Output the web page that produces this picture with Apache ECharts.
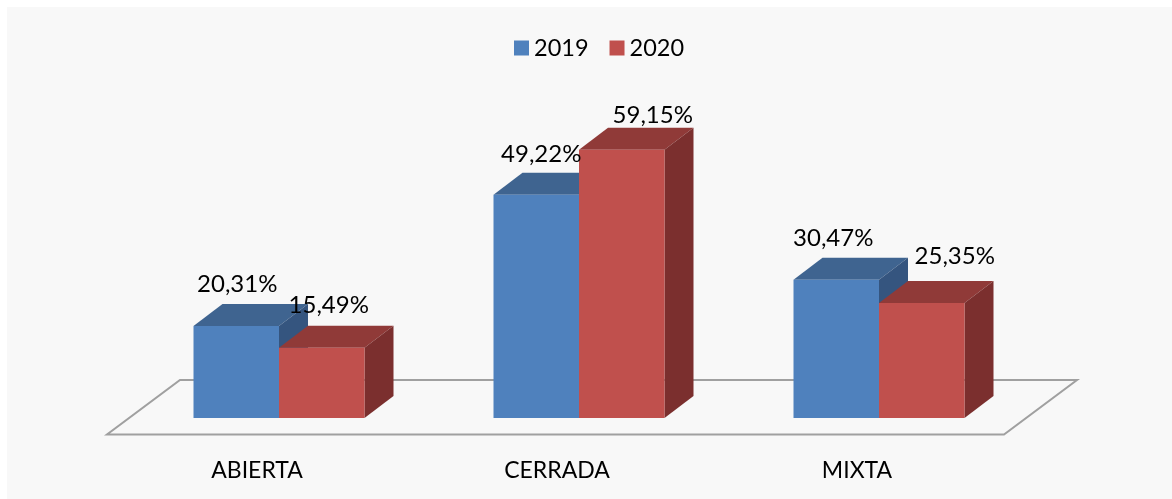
<!DOCTYPE html>
<html><head><meta charset="utf-8">
<style>html,body{margin:0;padding:0;background:#fff}#c{width:1172px;height:499px}</style>
<script src="https://cdn.jsdelivr.net/npm/echarts@6/dist/echarts.min.js"></script>
</head><body><div id="c"></div>
<script>
const categories = ['ABIERTA', 'CERRADA', 'MIXTA'];
const values2019 = [20.31, 49.22, 30.47];
const values2020 = [15.49, 59.15, 25.35];
const seriesNames = ['2019', '2020'];

// style / layout constants
const FONT = 'Lato';
const DEPTH_X = 29, DEPTH_Y = 22;
const BAR_RATIO = 85.5 / 300;
const faces = {
  '2019': { front: '#4F81BD', top: '#3F6490', side: '#35557F' },
  '2020': { front: '#C0504D', top: '#903A38', side: '#7B2F2E' }
};
// hand-placed label offsets from the top-centre of each front face: [dx, dy]
const labelNudges = {
  '2019': [[1, -42], [5, -40], [-3, -42]],
  '2020': [[7, -42], [31, -34], [33, -47]]
};
const fmt = v => v.toFixed(2).replace('.', ',') + '%';

function barRender(name, sign) {
  return function (params, api) {
    const i = api.value(0), v = api.value(1);
    const top = api.coord([i, v]), base = api.coord([i, 0]);
    const w = api.size([1, 0])[0] * BAR_RATIO;
    const x0 = top[0] + (sign < 0 ? -w : 0), x1 = x0 + w;
    const yT = top[1], yB = base[1], f = faces[name], n = labelNudges[name][i];
    return { type: 'group', children: [
      { type: 'polygon', shape: { points: [[x0, yT], [x1, yT], [x1 + DEPTH_X, yT - DEPTH_Y], [x0 + DEPTH_X, yT - DEPTH_Y]] }, style: { fill: f.top } },
      { type: 'polygon', shape: { points: [[x1, yT], [x1 + DEPTH_X, yT - DEPTH_Y], [x1 + DEPTH_X, yB - DEPTH_Y], [x1, yB]] }, style: { fill: f.side } },
      { type: 'rect', shape: { x: x0, y: yT, width: w, height: yB - yT }, style: { fill: f.front } },
      { type: 'text', z2: 100, style: { x: (x0 + x1) / 2 + n[0], y: yT + n[1], text: fmt(v), fill: '#000', font: '24px ' + FONT, align: 'center', verticalAlign: 'middle' } }
    ] };
  };
}
function floorRender(params, api) {
  const r = params.coordSys, yB = r.y + r.height;
  return { type: 'polygon', shape: { points: [
    [r.x - 22, yB + 16.5], [r.x + r.width - 25, yB + 16.5],
    [r.x + r.width + 48, yB - 38], [r.x + 51, yB - 38]
  ] }, style: { fill: 'none', stroke: '#A0A0A0', lineWidth: 2 } };
}
const chart = echarts.init(document.getElementById('c'), null, { renderer: 'canvas' });
chart.setOption({
  animation: false,
  backgroundColor: '#fff',
  graphic: [{ type: 'rect', z: -10, silent: true, shape: { x: 7, y: 7, width: 1165, height: 492 }, style: { fill: '#F8F8F8' } }],
  legend: {
    data: seriesNames, left: 509, top: 31, itemWidth: 15, itemHeight: 15, itemGap: 21, icon: 'rect',
    textStyle: { fontFamily: FONT, fontSize: 23.5, color: '#000' }
  },
  grid: { left: 129, width: 900, top: 100.5, height: 317.5 },
  xAxis: {
    type: 'category', data: categories,
    axisLine: { show: false }, axisTick: { show: false },
    axisLabel: { fontFamily: FONT, fontSize: 23, color: '#000', margin: 41, padding: [0, 44, 0, 0] }
  },
  yAxis: { type: 'value', min: 0, max: 70, show: false },
  series: [
    { type: 'custom', name: 'floor', silent: true, renderItem: floorRender, data: [[0, 0]], encode: { x: 0, y: 1 }, z: 1 },
    { type: 'custom', name: seriesNames[0], itemStyle: { color: faces['2019'].front }, renderItem: barRender('2019', -1), encode: { x: 0, y: 1 },
      data: values2019.map((v, i) => [i, v]), z: 2 },
    { type: 'custom', name: seriesNames[1], itemStyle: { color: faces['2020'].front }, renderItem: barRender('2020', 1), encode: { x: 0, y: 1 },
      data: values2020.map((v, i) => [i, v]), z: 2 }
  ]
});
</script></body></html>
